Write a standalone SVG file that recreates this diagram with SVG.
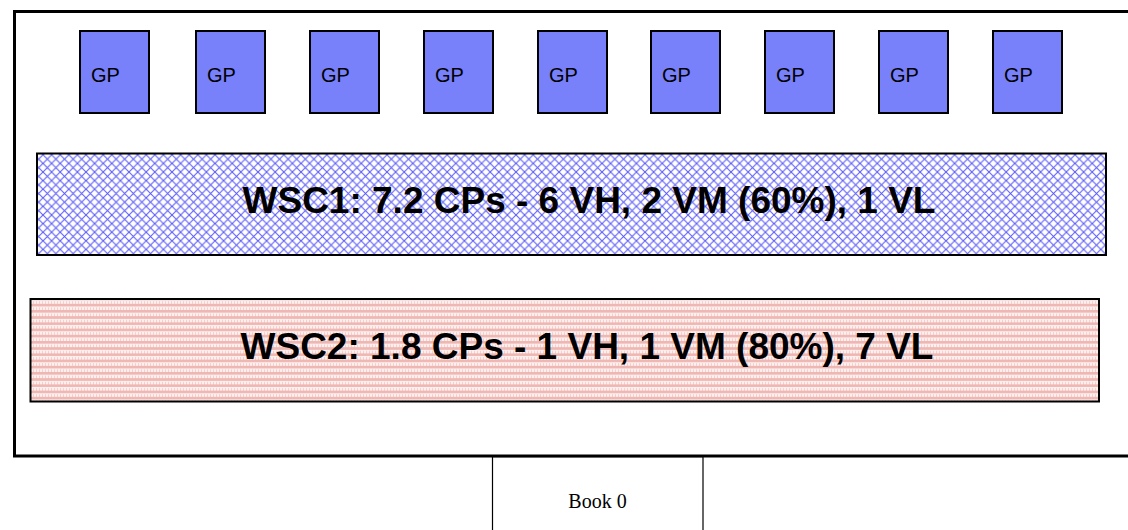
<svg xmlns="http://www.w3.org/2000/svg" width="1128" height="530" viewBox="0 0 1128 530">
<style>
.gp rect{fill:#7880fa;stroke:#000;stroke-width:2}
.gp text{font-family:"Liberation Sans",Arial,sans-serif;font-size:20px;fill:#000}
.wsc text{font-family:"Liberation Sans",Arial,sans-serif;font-size:37px;font-weight:bold;fill:#000;text-anchor:middle}
</style>
<defs>
<pattern id="cross" width="8.6" height="8.6" patternUnits="userSpaceOnUse">
<rect width="8.6" height="8.6" fill="#fff"/>
<path d="M0,0 L8.6,8.6 M8.6,0 L0,8.6" stroke="#5c5cf8" stroke-width="1.1" fill="none"/>
</pattern>
<pattern id="stripe" width="6" height="6.2" patternUnits="userSpaceOnUse">
<rect width="6" height="6.2" fill="#fcefee"/>
<rect y="0" width="6" height="2.6" fill="#efb6b2"/>
<rect x="0" y="3.6" width="1" height="2.6" fill="#f3d0cd"/>
<rect x="3" y="3.6" width="1" height="2.6" fill="#f3d0cd"/>
</pattern>
</defs>
<rect width="1128" height="530" fill="#fff"/>
<g id="frame">
<rect x="14.5" y="11.5" width="1130" height="444.5" fill="none" stroke="#000" stroke-width="3"/>
</g>
<g id="book0">
<rect x="492.5" y="457" width="210.5" height="90" fill="#fff" stroke="#000" stroke-width="1.2"/>
<text x="597.5" y="508" font-family="'Liberation Serif','Times New Roman',serif" font-size="20" text-anchor="middle">Book 0</text>
</g>
<g id="gp1" class="gp"><rect x="80" y="31" width="69" height="82"/><text x="91" y="82">GP</text></g>
<g id="gp2" class="gp"><rect x="196" y="31" width="69" height="82"/><text x="207" y="82">GP</text></g>
<g id="gp3" class="gp"><rect x="310" y="31" width="69" height="82"/><text x="321" y="82">GP</text></g>
<g id="gp4" class="gp"><rect x="424" y="31" width="69" height="82"/><text x="435" y="82">GP</text></g>
<g id="gp5" class="gp"><rect x="538" y="31" width="69" height="82"/><text x="549" y="82">GP</text></g>
<g id="gp6" class="gp"><rect x="651" y="31" width="69" height="82"/><text x="662" y="82">GP</text></g>
<g id="gp7" class="gp"><rect x="765" y="31" width="69" height="82"/><text x="776" y="82">GP</text></g>
<g id="gp8" class="gp"><rect x="879" y="31" width="69" height="82"/><text x="890" y="82">GP</text></g>
<g id="gp9" class="gp"><rect x="993" y="31" width="69" height="82"/><text x="1004" y="82">GP</text></g>
<g id="wsc1" class="wsc">
<rect x="37" y="153.5" width="1069" height="101.5" fill="url(#cross)" stroke="#000" stroke-width="2"/>
<text x="589" y="213">WSC1: 7.2 CPs - 6 VH, 2 VM (60%), 1 VL</text>
</g>
<g id="wsc2" class="wsc">
<rect x="30.5" y="299" width="1068.5" height="102.5" fill="url(#stripe)" stroke="#000" stroke-width="2"/>
<text x="587" y="359">WSC2: 1.8 CPs - 1 VH, 1 VM (80%), 7 VL</text>
</g>
<g id="connectors"></g>
</svg>
